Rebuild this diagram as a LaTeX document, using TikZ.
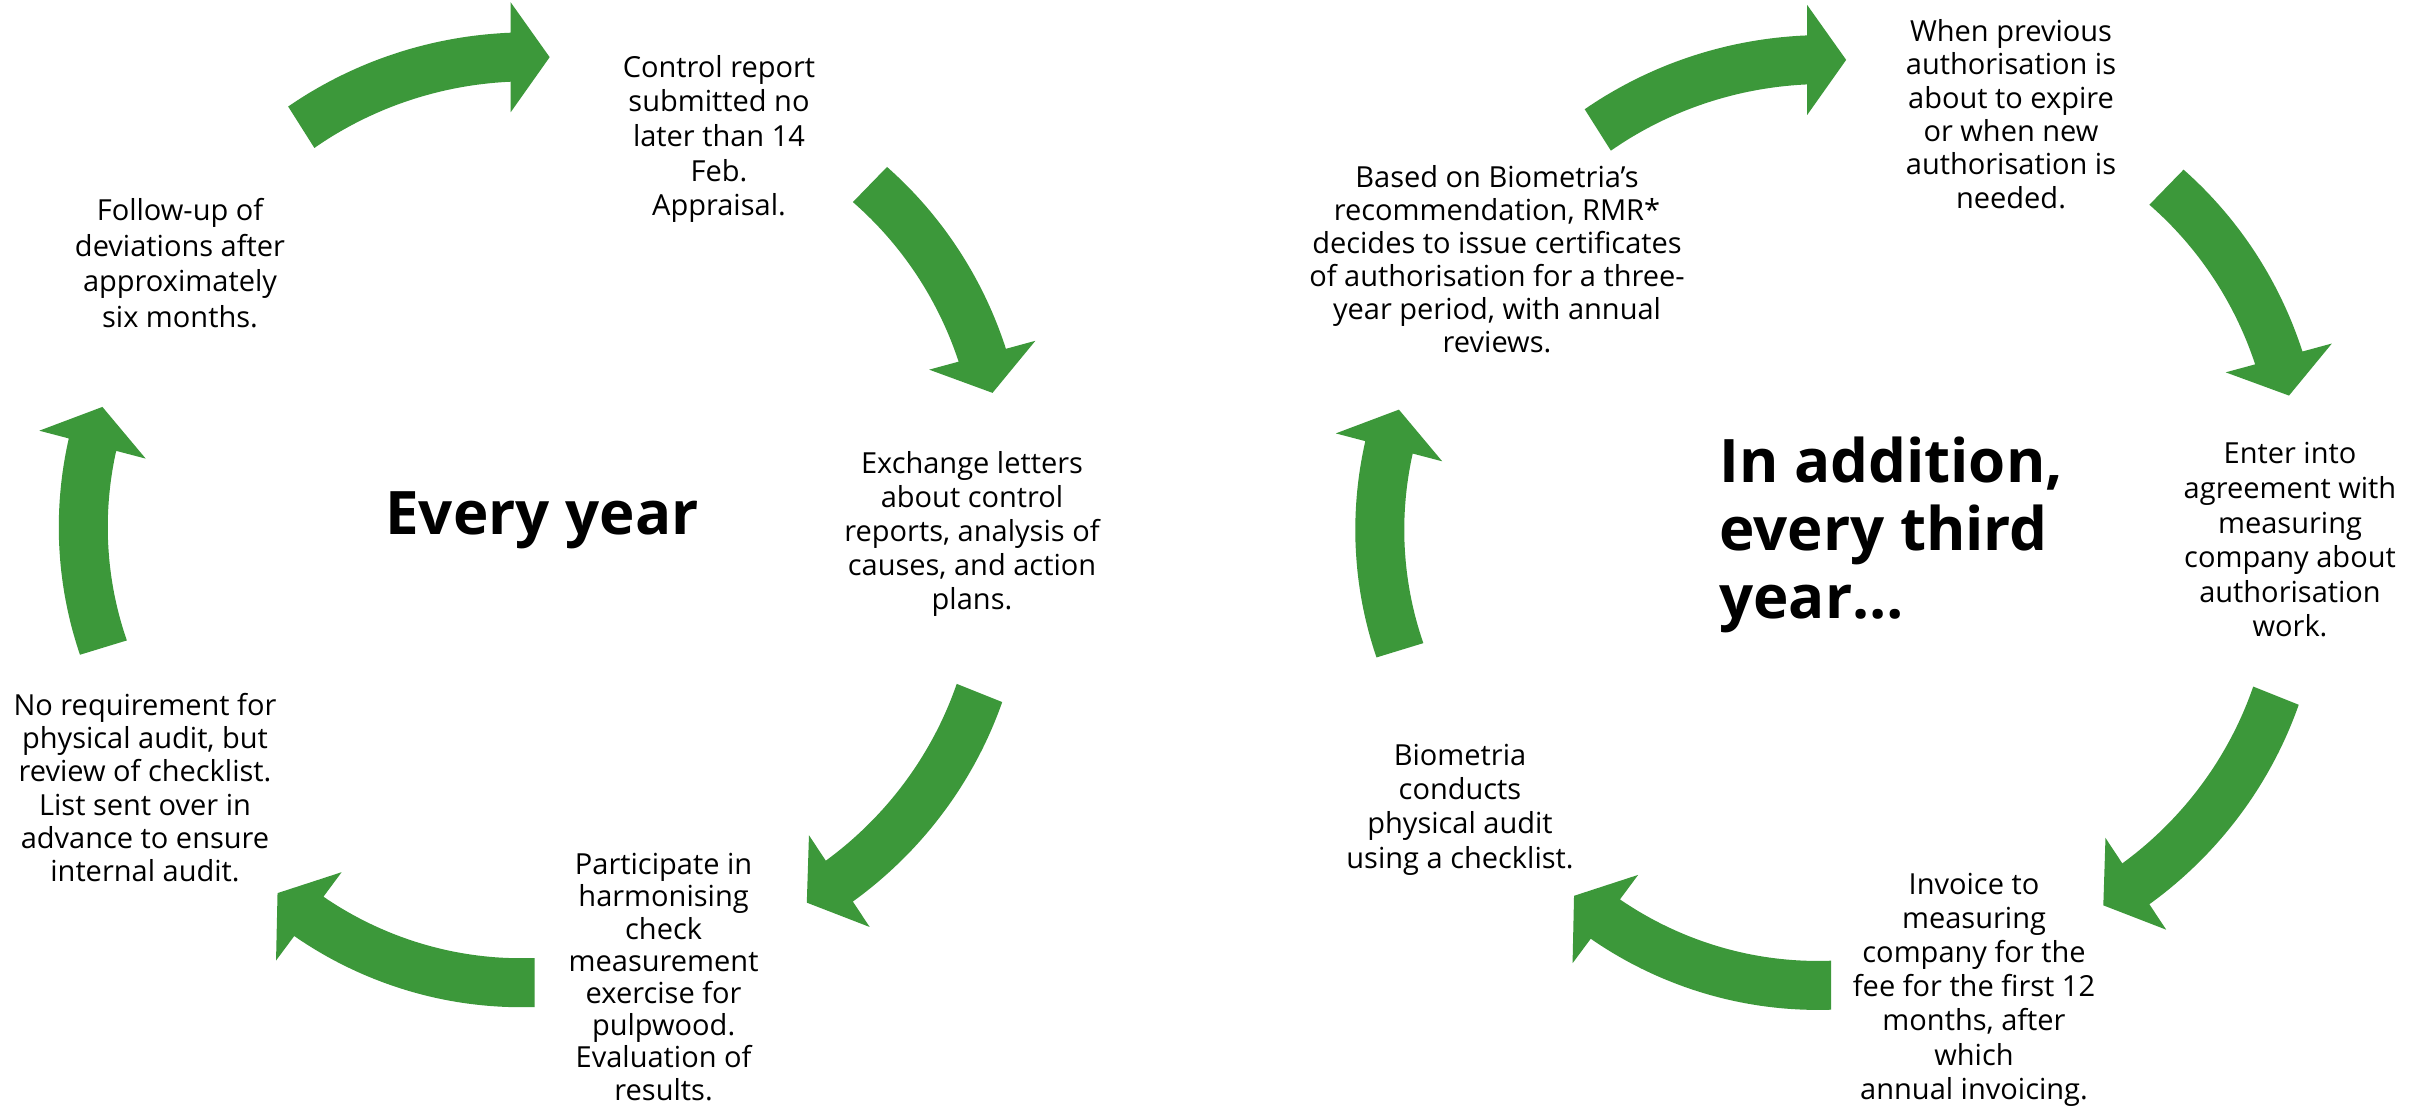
\documentclass[tikz,border=0pt]{standalone}
\usepackage{fontspec}
\setmainfont{Open Sans}
\definecolor{arrowgreen}{RGB}{60,152,58}
\tikzset{
  steptext/.style={align=center, font=\fontsize{29}{#1}\selectfont, inner sep=0pt, text=black},
  steptext/.default=33.5,
  bigtext/.style={align=left, font=\fontsize{60}{68}\selectfont\bfseries, inner sep=0pt, text=black},
  arrowbody/.style={fill=arrowgreen, draw=none},
}
% #1 cx, #2 cy, #3 tail angle, #4 head angle, #5 tail radius, #6 head radius
\newcommand\cyclearrow[6]{%
  \fill[arrowbody]
    plot[domain=#3:#4, samples=40, variable=\t]
      ({#1+((#5)+((#6)-(#5))*(\t-(#3))/((#4)-(#3))+24.5)*cos(\t)},
       {#2+((#5)+((#6)-(#5))*(\t-(#3))/((#4)-(#3))+24.5)*sin(\t)})
    -- ({#1+((#6)+55)*cos(#4)},{#2+((#6)+55)*sin(#4)})
    -- ({#1+(#6)*cos(#4)+39*cos((#4)+90)},{#2+(#6)*sin(#4)+39*sin((#4)+90)})
    -- ({#1+((#6)-55)*cos(#4)},{#2+((#6)-55)*sin(#4)})
    -- plot[domain=#4:#3, samples=40, variable=\t]
      ({#1+((#5)+((#6)-(#5))*(\t-(#3))/((#4)-(#3))-24.5)*cos(\t)},
       {#2+((#5)+((#6)-(#5))*(\t-(#3))/((#4)-(#3))-24.5)*sin(\t)})
    -- cycle;
}
\newcommand\cyclearrows{%
  \cyclearrow{511}{459}{-122.3}{-90.05}{392.5}{401.8}
  \cyclearrow{604}{458}{-45.8}{-15.2}{381.5}{392}
  \cyclearrow{619.5}{549}{21.8}{56.5}{387.7}{398.3}
  \cyclearrow{534.5}{612.5}{90}{126.6}{370}{378.5}
  \cyclearrow{455.6}{539.9}{163.0}{194.7}{368.3}{375.4}
}
\begin{document}
\begin{tikzpicture}[x=1pt,y=-1pt]
\useasboundingbox (0,0) rectangle (2420,1110);
\fill[white] (0,0) rectangle (2420,1110);

% ---------- left cycle ----------
\cyclearrows
\node[steptext=34.7] (l1) at (719,139) {Control report\\submitted no\\later than 14\\Feb.\\Appraisal.};
\node[steptext=34] (l2) at (972,534) {Exchange letters\\about control\\reports, analysis of\\causes, and action\\plans.};
\node[steptext=32.2] (l3) at (663.6,977) {Participate in\\harmonising\\check\\measurement\\exercise for\\pulpwood.\\Evaluation of\\results.};
\node[steptext=33.3] (l4) at (145,787.5) {No requirement for\\physical audit, but\\review of checklist.\\List sent over in\\advance to ensure\\internal audit.};
\node[steptext=35.5] (l5) at (180,263) {Follow-up of\\deviations after\\approximately\\six months.};
\node[bigtext] (lc) at (542,520) {Every year};

% ---------- right cycle ----------
\begin{scope}[shift={(1296.5,2.7)}]
\cyclearrows
\end{scope}
\node[steptext=33.3] (r1) at (2011,114) {When previous\\authorisation is\\about to expire\\or when new\\authorisation is\\needed.};
\node[steptext=34.6] (r2) at (2290,540) {Enter into\\agreement with\\measuring\\company about\\authorisation\\work.};
\node[steptext=34.2] (r3) at (1974,989.5) {Invoice to\\measuring\\company for the\\fee for the first 12\\months, after\\which\\annual invoicing.};
\node[steptext=34.4] (r4) at (1460,809.5) {Biometria\\conducts\\physical audit\\using a checklist.};
\node[steptext=33] (r5) at (1497,259) {Based on Biometria’s\\recommendation, RMR*\\decides to issue certificates\\of authorisation for a three-\\year period, with annual\\reviews.};
\node[bigtext, anchor=west] (rc) at (1719,535) {In addition,\\every third\\year…};
\end{tikzpicture}
\end{document}
